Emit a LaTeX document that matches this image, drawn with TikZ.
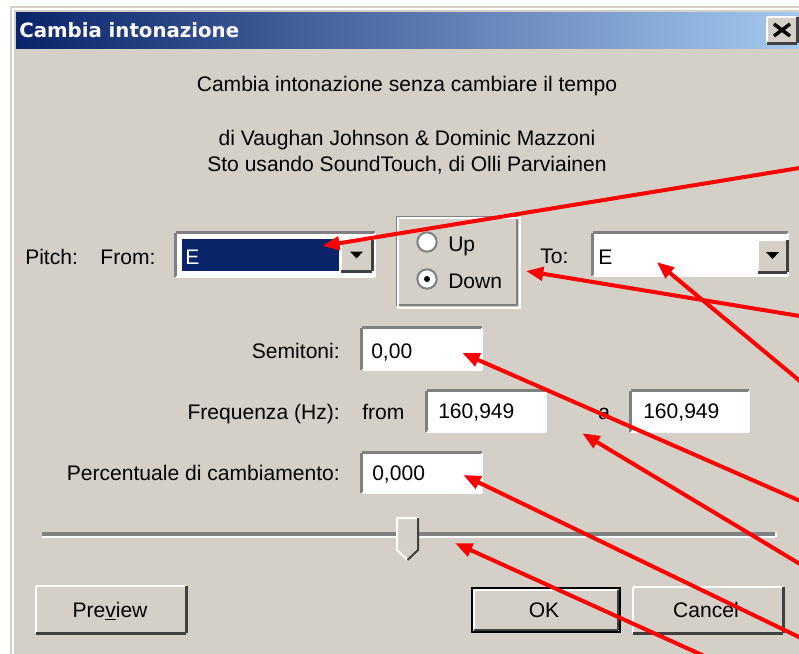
\documentclass[tikz,border=0pt]{standalone}
\usepackage{fontspec}
\setmainfont{Liberation Sans}
\newfontfamily\titlefont{DejaVu Sans}
\usetikzlibrary{positioning, fit, arrows.meta}
\definecolor{winface}{HTML}{D4D0C8}
\definecolor{winshadow}{HTML}{808080}
\definecolor{windark}{HTML}{404040}
\definecolor{titledark}{HTML}{0A246A}
\definecolor{titlelight}{HTML}{A6CAF0}
\tikzset{
  darkedge/.style={draw=winshadow, line width=2.4pt},
  shadowedge/.style={draw=windark, line width=2pt},
  lightedge/.style={draw=white, line width=1.6pt},
  sunken/.style={
    fit={#1}, inner sep=0pt, fill=white,
    append after command={
      (\tikzlastnode.south west) edge[darkedge] (\tikzlastnode.north west)
      (\tikzlastnode.north west) edge[darkedge] (\tikzlastnode.north east)
      (\tikzlastnode.north east) edge[lightedge] (\tikzlastnode.south east)
      (\tikzlastnode.south east) edge[lightedge] (\tikzlastnode.south west)
    },
  },
  raised/.style={
    fit={#1}, inner sep=0pt, fill=winface,
    append after command={
      (\tikzlastnode.south west) edge[lightedge] (\tikzlastnode.north west)
      (\tikzlastnode.north west) edge[lightedge] (\tikzlastnode.north east)
      (\tikzlastnode.north east) edge[shadowedge] (\tikzlastnode.south east)
      (\tikzlastnode.south east) edge[shadowedge] (\tikzlastnode.south west)
    },
  },
  groove/.style={
    fit={#1}, inner sep=0pt, fill=winshadow,
    append after command={
      (\tikzlastnode.south west) edge[lightedge] (\tikzlastnode.south east)
      (\tikzlastnode.south east) edge[lightedge] (\tikzlastnode.north east)
    },
  },
  etched/.style={
    fit={#1}, inner sep=0pt, draw=winshadow, line width=1.5pt,
  },
  radio/.style={
    circle, fill=white, draw=winshadow, line width=1.5pt,
    minimum size=14.5pt, inner sep=0pt,
  },
  lbl/.style={anchor=base west, inner sep=0pt},
  lblr/.style={anchor=base east, inner sep=0pt},
  btnlbl/.style={anchor=base, inner sep=0pt},
  callout/.style={
    draw=red, line width=3pt,
    -{Triangle[length=13pt, width=10pt]},
  },
}

\begin{document}
\begin{tikzpicture}[x=0.75pt, y=-0.75pt, font=\fontsize{15.8}{19}\selectfont]
\useasboundingbox (0,0) rectangle (799,653);
\clip (0,0) rectangle (799,653);
% window frame and title bar
\fill[white] (0,0) rectangle (799,653);
\fill[winface] (10,6) rectangle (820,680);
\draw[white, line width=1.5pt] (12.5,680) -- (12.5,8.5) -- (820,8.5);
\shade[left color=titledark, right color=titlelight] (16,12) rectangle (805,48);
\node[lbl, text=white, font=\titlefont\bfseries\fontsize{14.8}{18}\selectfont]
  (title) at (19,37) {Cambia intonazione};
\node[raised={(767,17)(797,43)}] (closebtn) {};
\begin{scope}[line width=2.6pt, line cap=butt]
  \draw ([shift={(-8,-6)}]closebtn.center) -- ([shift={(8,6)}]closebtn.center);
  \draw ([shift={(-8,6)}]closebtn.center) -- ([shift={(8,-6)}]closebtn.center);
\end{scope}

% header texts
\node[anchor=base] (subtitle) at (407,91) {Cambia intonazione senza cambiare il tempo};
\node[anchor=base] (authors) at (407,145) {di Vaughan Johnson \& Dominic Mazzoni};
\node[anchor=base] (library) at (407,171) {Sto usando SoundTouch, di Olli Parviainen};

% pitch row
\node[lbl] (pitch) at (25,264) {Pitch:};
\node[lbl, base right=16.5pt of pitch] (fromlbl) {From:};
\node[sunken={(176,233)(375,277)}] (fromcombo) {};
\node[fit={(182,239)(339,271)}, inner sep=0pt, fill=titledark] (fromsel) {};
\node[lbl, text=white] (fromnote) at (185,264) {E};
\node[raised={(341,240)(372,271)}] (frombtn) {};

\node[etched={(397,217)(517,305)}] (grp) {};
\draw[white, line width=1.5pt] ([shift={(2,2)}]grp.north west) rectangle ([shift={(2,2)}]grp.south east);
\node[radio] (up) at (427,242) {};
\node[radio] (down) at (427,279) {};
\node[circle, fill=black, minimum size=4.5pt, inner sep=0pt] (downdot) at (down) {};
\node[lbl] (uplbl) at (448,251) {Up};
\node[lbl] (downlbl) at (448,288) {Down};

\node[lbl] (tolbl) at (540,263) {To:};
\node[sunken={(593,233)(788,276)}] (tocombo) {};
\node[lbl] (tonote) at (598,264) {E};
\node[raised={(758,240)(787,272)}] (tobtn) {};
\foreach \b in {frombtn, tobtn}
  \fill ([shift={(-6.5,-4)}]\b.center) -- ([shift={(6.5,-4)}]\b.center)
    -- ([shift={(0,3)}]\b.center) -- cycle;

% value fields
\node[lblr] (semilbl) at (340,358) {Semitoni:};
\node[sunken={(362,328)(482,370)}] (semi) {};
\node[lbl] (semival) at (371,358) {0,00};

\node[lblr] (freqlbl) at (340,419) {Frequenza (Hz):};
\node[lbl] (freqfromlbl) at (362,419) {from};
\node[sunken={(427,391)(546,432)}] (freqfrom) {};
\node[lbl] (freqfromval) at (438,418) {160,949};
\node[lbl] (freqtolbl) at (598,419) {a};
\node[sunken={(631,391)(749,432)}] (freqto) {};
\node[lbl] (freqtoval) at (643,418) {160,949};

\node[lblr] (perclbl) at (340,480) {Percentuale di cambiamento:};
\node[sunken={(362,453)(482,493)}] (perc) {};
\node[lbl] (percval) at (372,480) {0,000};

% slider
\node[groove={(42,532)(776,537)}] (track) {};
\fill[winface] (397,518) -- (418,518) -- (418,550) -- (407.5,560) -- (397,550) -- cycle;
\draw[white, line width=1.5pt] (407.5,560) -- (397,550) -- (397,518) -- (418,518);
\draw[windark, line width=1.5pt] (418,518) -- (418,550) -- (407.5,560);

% buttons
\node[raised={(36,586)(186,633)}] (preview) {};
\node[raised={(474,590)(618,630)}] (ok) {};
\draw[line width=1.6pt] ([shift={(-2,-2)}]ok.north west) rectangle ([shift={(2,2)}]ok.south east);
\node[raised={(633,587)(783,633)}] (cancel) {};
\node[btnlbl] (previewlbl) at (110,617) {Pre\underline{v}iew};
\node[btnlbl] (oklbl) at (544,617) {OK};
\node[btnlbl] (cancellbl) at (706,617) {Cancel};

% callout arrows
\coordinate (note-1) at (830,163);
\coordinate (note-2) at (830,321);
\coordinate (note-3) at (830,406);
\coordinate (note-4) at (830,514);
\coordinate (note-5) at (830,582);
\coordinate (note-6) at (830,652);
\coordinate (note-7) at (830,713);
\begin{scope}[callout]
  \draw (note-1) -- ([shift={(-17,-9)}]fromsel.east);
  \draw (note-2) -- ([shift={(8,10)}]grp.east);
  \draw (note-3) -- ([shift={(64,7.5)}]tocombo.west);
  \draw (note-4) -- ([shift={(-20,4)}]semi.east);
  \draw (note-5) -- ([shift={(36,1)}]freqfrom.south east);
  \draw (note-6) -- ([shift={(-19,2)}]perc.east);
  \draw (note-7) -- ([shift={(46,8.5)}]track.center);
\end{scope}
\end{tikzpicture}
\end{document}
